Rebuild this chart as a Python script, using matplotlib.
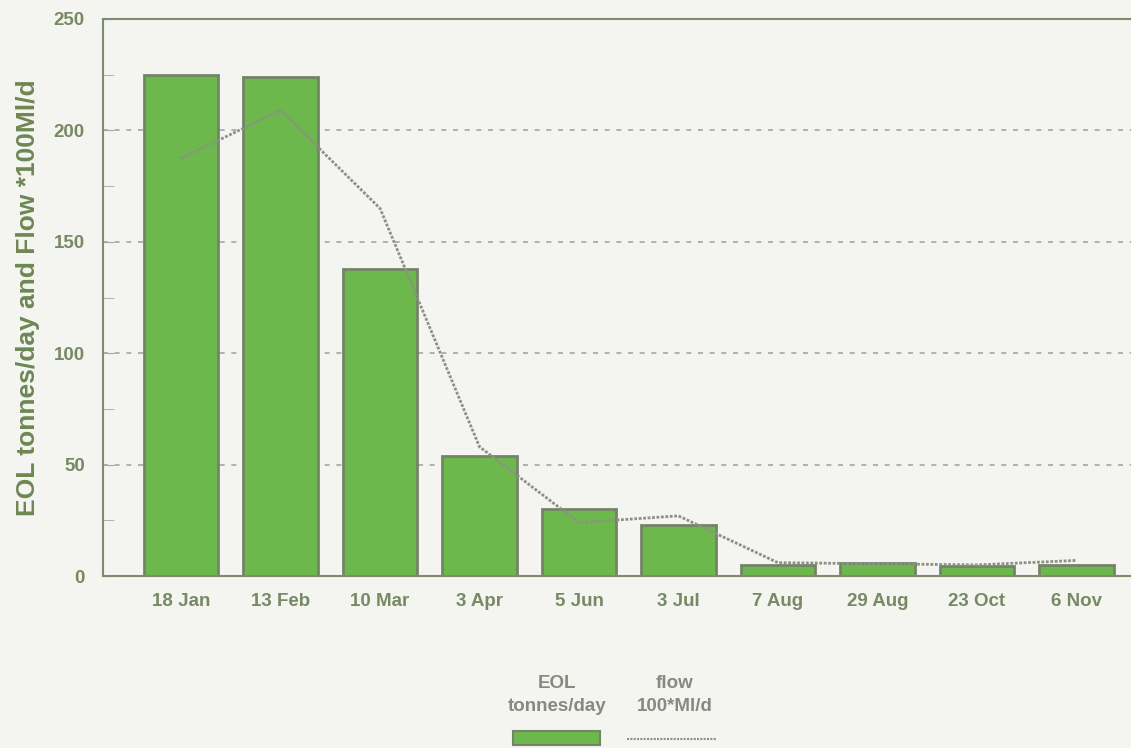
import matplotlib
matplotlib.use("Agg")
import matplotlib.pyplot as plt
from matplotlib.patches import Rectangle
from matplotlib.lines import Line2D
from matplotlib.ticker import MultipleLocator

plt.rcParams['font.family'] = ['Liberation Sans', 'DejaVu Sans']

# sampling dates and measured values
dates = ["18 Jan", "13 Feb", "10 Mar", "3 Apr", "5 Jun", "3 Jul",
         "7 Aug", "29 Aug", "23 Oct", "6 Nov"]
eol = [225, 224, 138, 54, 30, 23, 5, 6, 4.5, 5]
flow = [187.5, 209, 165, 58, 24, 27, 6, 5.5, 5, 7]

bg = "#f4f4f1"
frame = "#7d8c6f"
tick_c = "#778a63"
label_c = "#6d8753"
legend_c = "#868b80"
bar_fill = "#6cb84c"
bar_edge = "#738468"
line_c = "#8c9088"

fig = plt.figure(figsize=(11.31, 7.48), dpi=100, facecolor=bg)
ax = fig.add_axes([0.0911, 0.2299, 0.9089, 0.7447], facecolor=bg)

x = list(range(len(dates)))
ax.set_axisbelow(True)
ax.yaxis.grid(True, which="major", linestyle=(0, (3, 4)), color="#a4a8a0", lw=1.2)
ax.bar(x, eol, width=0.75, color=bar_fill, edgecolor=bar_edge, linewidth=2, zorder=2)
ax.plot(x, flow, color=line_c, lw=2, linestyle=(0, (1, 0.6)), zorder=3)

ax.set_xlim(-0.785, 9.55)
ax.set_ylim(0, 250)
ax.set_xticks(x)
ax.set_xticklabels(dates, fontweight="bold")
ax.yaxis.set_major_locator(MultipleLocator(50))
ax.yaxis.set_minor_locator(MultipleLocator(25))
ax.tick_params(axis="y", which="both", direction="in", length=8, color="#a4a8a0",
               labelsize=13.5, labelcolor=tick_c, pad=13)
ax.tick_params(axis="x", direction="in", length=6, color=bar_edge,
               labelsize=13.5, labelcolor=tick_c, pad=12)
for lbl in ax.get_yticklabels():
    lbl.set_fontweight("bold")

for side in ("left", "bottom", "top"):
    ax.spines[side].set_color(frame)
    ax.spines[side].set_linewidth(1.5)
ax.spines["right"].set_visible(False)

ax.set_ylabel("EOL tonnes/day and Flow *100Ml/d", fontsize=19, fontweight="bold",
              color=label_c)
ax.yaxis.set_label_coords(-0.061, 0.5)

# legend: labels stacked above their keys
fig.text(557 / 1131, 1 - 695 / 748, "EOL\ntonnes/day", ha="center", va="center",
         fontsize=13.5, fontweight="bold", color=legend_c, linespacing=1.45)
fig.text(675 / 1131, 1 - 695 / 748, "flow\n100*Ml/d", ha="center", va="center",
         fontsize=13.5, fontweight="bold", color=legend_c, linespacing=1.45)
fig.add_artist(Rectangle((513 / 1131, 1 - 745 / 748), 87 / 1131, 14 / 748,
                         transform=fig.transFigure, facecolor=bar_fill,
                         edgecolor=bar_edge, lw=1.5))
fig.add_artist(Line2D([627 / 1131, 717 / 1131], [1 - 739 / 748, 1 - 739 / 748],
                      transform=fig.transFigure, color=line_c, lw=1.5,
                      linestyle=(0, (1, 0.6))))

fig.savefig("out.png", dpi=100, facecolor=bg)
